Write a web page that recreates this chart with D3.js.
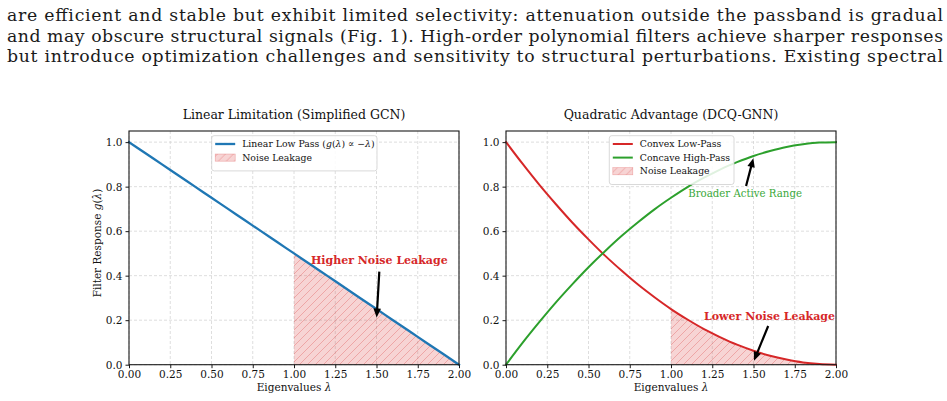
<!DOCTYPE html>
<html>
<head>
<meta charset="utf-8">
<script src="https://cdn.jsdelivr.net/npm/d3@7"></script>
<style>
  html, body { margin: 0; padding: 0; background: #fff; }
  svg { display: block; }
</style>
</head>
<body>
<div id="chart"></div>
<script>
// ---- data ----
const paragraphLines = [
  "are efficient and stable but exhibit limited selectivity: attenuation outside the passband is gradual",
  "and may obscure structural signals (Fig. 1). High-order polynomial filters achieve sharper responses",
  "but introduce optimization challenges and sensitivity to structural perturbations. Existing spectral"
];

const lambdas = [0, 0.1, 0.2, 0.3, 0.4, 0.5, 0.6, 0.7, 0.8, 0.9, 1.0,
                 1.1, 1.2, 1.3, 1.4, 1.5, 1.6, 1.7, 1.8, 1.9, 2.0];
const linearLowPass = [1.00, 0.95, 0.90, 0.85, 0.80, 0.75, 0.70, 0.65, 0.60, 0.55, 0.50,
                       0.45, 0.40, 0.35, 0.30, 0.25, 0.20, 0.15, 0.10, 0.05, 0.00];
const convexLowPass = [1.000, 0.903, 0.810, 0.723, 0.640, 0.563, 0.490, 0.423, 0.360, 0.303, 0.250,
                       0.203, 0.160, 0.123, 0.090, 0.063, 0.040, 0.023, 0.010, 0.003, 0.000];
const concaveHighPass = [0.000, 0.098, 0.190, 0.278, 0.360, 0.438, 0.510, 0.578, 0.640, 0.698, 0.750,
                         0.798, 0.840, 0.878, 0.910, 0.938, 0.960, 0.978, 0.990, 0.998, 1.000];

const xTicks = [0, 0.25, 0.5, 0.75, 1.0, 1.25, 1.5, 1.75, 2.0];
const yTicks = [0, 0.2, 0.4, 0.6, 0.8, 1.0];
const leakageStart = 1.0;

// annotation text position + arrow (data units)
const leftNotes = [
  { text: "Higher Noise Leakage", x: 1.517, y: 0.453, from: [1.517, 0.418], to: [1.501, 0.212], kind: "bad" }
];
const rightNotes = [
  { text: "Broader Active Range", x: 1.449, y: 0.754, from: [1.455, 0.803], to: [1.499, 0.928], kind: "good" },
  { text: "Lower Noise Leakage", x: 1.597, y: 0.201, from: [1.589, 0.174], to: [1.503, 0.018], kind: "bad" }
];

// ---- setup ----
const W = 947, H = 401;
const blue = "#1f77b4", red = "#d62728", green = "#2ca02c";
const serif = "'DejaVu Serif', serif";

const svg = d3.select("#chart").append("svg")
  .attr("width", W).attr("height", H)
  .attr("viewBox", `0 0 ${W} ${H}`);

const defs = svg.append("defs");
const hatch = defs.append("pattern")
  .attr("id", "hatch")
  .attr("patternUnits", "userSpaceOnUse")
  .attr("width", 8).attr("height", 8);
hatch.append("rect").attr("width", 8).attr("height", 8).attr("fill", "rgba(214,39,40,0.2)");
hatch.append("path")
  .attr("d", "M-2,2 L2,-2 M0,8 L8,0 M6,10 L10,6")
  .attr("stroke", "rgba(214,39,40,0.3)").attr("stroke-width", 0.9);

// paragraph text, stretched to the full justified width
const para = svg.append("g").attr("font-family", serif)
  .attr("font-size", "17.3px").attr("fill", "#1a1a1a");
paragraphLines.forEach((line, i) => {
  para.append("text").attr("x", 7).attr("y", 21 + i * 20.6)
    .attr("textLength", 936).attr("lengthAdjust", "spacing")
    .text(line);
});

const yScale = d3.scaleLinear().domain([0, 1.05]).range([364.7, 131]);

function drawArrow(g, x1, y1, x2, y2) {
  const dx = x2 - x1, dy = y2 - y1;
  const len = Math.hypot(dx, dy);
  const ux = dx / len, uy = dy / len, px = -uy, py = ux;
  const sw = 1.1, hw = 3.8, hl = 9;
  const bx = x2 - ux * hl, by = y2 - uy * hl;
  const pts = [
    [x1 + px * sw, y1 + py * sw], [bx + px * sw, by + py * sw], [bx + px * hw, by + py * hw],
    [x2, y2],
    [bx - px * hw, by - py * hw], [bx - px * sw, by - py * sw], [x1 - px * sw, y1 - py * sw]
  ];
  g.append("path").attr("d", "M" + pts.map(p => p.join(",")).join("L") + "Z").attr("fill", "#000");
}

function drawPanel(opts) {
  const x = d3.scaleLinear().domain([0, 2]).range([opts.left, opts.left + 330]);
  const g = svg.append("g");
  const top = yScale(1.05), bottom = yScale(0);

  // title
  g.append("text")
    .attr("x", (x.range()[0] + x.range()[1]) / 2).attr("y", 119)
    .attr("text-anchor", "middle").attr("font-family", serif).attr("font-size", "12.5px")
    .attr("fill", "#111").text(opts.title);

  // grid
  const grid = g.append("g").attr("stroke", "#d6d6d6").attr("stroke-width", 0.8).attr("stroke-dasharray", "3,2");
  xTicks.forEach(t => grid.append("line").attr("x1", x(t)).attr("x2", x(t)).attr("y1", top).attr("y2", bottom));
  yTicks.forEach(t => grid.append("line").attr("x1", x.range()[0]).attr("x2", x.range()[1]).attr("y1", yScale(t)).attr("y2", yScale(t)));

  // leakage area
  const idx = lambdas.map((l, i) => i).filter(i => lambdas[i] >= leakageStart);
  const area = d3.area()
    .x(i => x(lambdas[i])).y0(yScale(0)).y1(i => yScale(opts.leakSeries[i]))
    .curve(d3.curveMonotoneX);
  g.append("path").attr("d", area(idx)).attr("fill", "url(#hatch)");

  // lines
  const line = d3.line().x((d, i) => x(lambdas[i])).y(d => yScale(d)).curve(d3.curveMonotoneX);
  opts.series.forEach(s => {
    g.append("path").datum(s.values).attr("d", line)
      .attr("fill", "none").attr("stroke", s.color).attr("stroke-width", s.width)
      .attr("stroke-linecap", "square");
  });

  // frame
  g.append("rect").attr("x", x.range()[0]).attr("y", top)
    .attr("width", 330).attr("height", bottom - top)
    .attr("fill", "none").attr("stroke", "#1a1a1a").attr("stroke-width", 1.1);

  // axes
  const xAxis = d3.axisBottom(x).tickValues(xTicks).tickFormat(d3.format(".2f")).tickSize(3.5).tickPadding(2);
  const yAxis = d3.axisLeft(yScale).tickValues(yTicks).tickFormat(d3.format(".1f")).tickSize(3.5).tickPadding(3);
  const ax = g.append("g").attr("transform", `translate(0,${bottom})`).call(xAxis);
  const ay = g.append("g").attr("transform", `translate(${x.range()[0]},0)`).call(yAxis);
  [ax, ay].forEach(a => {
    a.select(".domain").remove();
    a.selectAll("line").attr("stroke", "#1a1a1a").attr("stroke-width", 1);
    a.selectAll("text").attr("font-family", serif).attr("font-size", "10.5px").attr("fill", "#111");
  });

  // x label
  const xl = g.append("text")
    .attr("x", (x.range()[0] + x.range()[1]) / 2).attr("y", 391)
    .attr("text-anchor", "middle").attr("font-family", serif).attr("font-size", "10.5px").attr("fill", "#111");
  xl.append("tspan").text("Eigenvalues ");
  xl.append("tspan").attr("font-style", "italic").text("λ");

  if (opts.ylabel) {
    const yl = g.append("text")
      .attr("transform", `translate(101,243) rotate(-90)`)
      .attr("text-anchor", "middle").attr("font-family", serif).attr("font-size", "10.5px").attr("fill", "#111");
    yl.append("tspan").text("Filter Response ");
    yl.append("tspan").attr("font-style", "italic").text("g");
    yl.append("tspan").text("(");
    yl.append("tspan").attr("font-style", "italic").text("λ");
    yl.append("tspan").text(")");
  }

  // annotations
  opts.notes.forEach(n => {
    const t = g.append("text")
      .attr("x", x(n.x)).attr("y", yScale(n.y))
      .attr("text-anchor", "middle").attr("font-family", serif)
      .text(n.text);
    if (n.kind === "bad") t.attr("font-weight", "bold").attr("fill", red).attr("font-size", "11px");
    else t.attr("fill", "#3aa83a").attr("font-size", "10.2px");
    drawArrow(g, x(n.from[0]), yScale(n.from[1]), x(n.to[0]), yScale(n.to[1]));
  });

  // legend
  const lg = g.append("g").attr("transform", `translate(${opts.legend.x},${opts.legend.y})`);
  lg.append("rect").attr("width", opts.legend.w).attr("height", 8 + opts.legend.items.length * 13.6)
    .attr("rx", 2.5).attr("fill", "rgba(255,255,255,0.85)").attr("stroke", "#cfcfcf").attr("stroke-width", 0.8);
  opts.legend.items.forEach((it, i) => {
    const cy = 8.3 + i * 13.6;
    if (it.type === "line") {
      lg.append("line").attr("x1", 3.5).attr("x2", 23.5).attr("y1", cy).attr("y2", cy)
        .attr("stroke", it.color).attr("stroke-width", it.width);
    } else {
      lg.append("rect").attr("x", 3.5).attr("y", cy - 3.6).attr("width", 20).attr("height", 7.2)
        .attr("fill", "url(#hatch)").attr("stroke", "rgba(214,39,40,0.35)").attr("stroke-width", 0.6);
    }
    const tx = lg.append("text").attr("x", 30.5).attr("y", cy + 3.3)
      .attr("font-family", serif).attr("font-size", "9.3px").attr("fill", "#111");
    it.label.forEach(part => {
      const sp = tx.append("tspan").text(part.t);
      if (part.i) sp.attr("font-style", "italic");
    });
  });
}

drawPanel({
  left: 129,
  title: "Linear Limitation (Simplified GCN)",
  ylabel: true,
  series: [{ values: linearLowPass, color: blue, width: 2.3 }],
  leakSeries: linearLowPass,
  notes: leftNotes,
  legend: {
    x: 211.7, y: 135.7, w: 165.3,
    items: [
      { type: "line", color: blue, width: 2.3,
        label: [{ t: "Linear Low Pass (" }, { t: "g", i: true }, { t: "(" }, { t: "λ", i: true },
                { t: ") ∝ −" }, { t: "λ", i: true }, { t: ")" }] },
      { type: "patch", label: [{ t: "Noise Leakage" }] }
    ]
  }
});

drawPanel({
  left: 506,
  title: "Quadratic Advantage (DCQ-GNN)",
  ylabel: false,
  series: [
    { values: convexLowPass, color: red, width: 2 },
    { values: concaveHighPass, color: green, width: 2 }
  ],
  leakSeries: convexLowPass,
  notes: rightNotes,
  legend: {
    x: 609.3, y: 135.7, w: 124.7,
    items: [
      { type: "line", color: red, width: 2, label: [{ t: "Convex Low-Pass" }] },
      { type: "line", color: green, width: 2, label: [{ t: "Concave High-Pass" }] },
      { type: "patch", label: [{ t: "Noise Leakage" }] }
    ]
  }
});
</script>
</body>
</html>
